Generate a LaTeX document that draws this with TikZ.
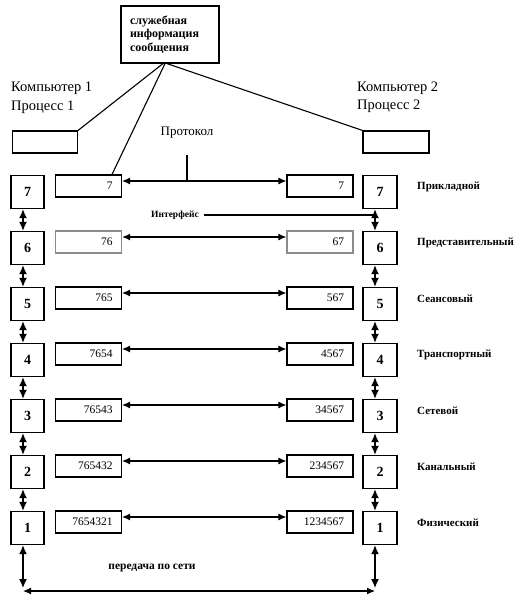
\documentclass[tikz,border=0pt]{standalone}
\usepackage{fontspec}
\setmainfont{Liberation Serif}
\usetikzlibrary{arrows.meta}
\begin{document}
\begin{tikzpicture}[x=1pt,y=-1pt,
  numbox/.style={draw,line width=1.3pt,minimum width=33pt,minimum height=33pt,inner sep=0pt,font=\bfseries\fontsize{14}{14}\selectfont},
  databox/.style={draw,line width=1.1pt,minimum width=66pt,minimum height=22pt,text width=48pt,align=right,inner xsep=9pt,inner ysep=0pt,font=\fontsize{11.5}{11.5}\selectfont},
  graybox/.style={databox,draw=black!45,line width=1.4pt},
  smallbox/.style={draw,line width=1.2pt,minimum width=65pt,minimum height=22pt,inner sep=0pt},
  plain/.style={inner sep=1pt,font=\fontsize{14.5}{14.5}\selectfont},
  layername/.style={anchor=west,inner sep=0pt,font=\bfseries\fontsize{11}{11}\selectfont},
  link/.style={line width=1.1pt},
  harrow/.style={line width=1.1pt,{Latex[length=8pt,width=7pt]}-{Latex[length=8pt,width=7pt]}},
  varrow/.style={line width=1.4pt,{Latex[length=9pt,width=8pt]}-{Latex[length=9pt,width=8pt]}}
]
\useasboundingbox (0,0) rectangle (514,595);

% top box
\node[draw,line width=1.2pt,minimum width=98pt,minimum height=57pt,text width=80pt,inner xsep=9pt,align=left,
  font=\bfseries\fontsize{12}{13.5}\selectfont] (T) at (170,34.5) {служебная\\информация\\сообщения};

% computer labels
\node[plain,anchor=west] (C1) at (10,88) {Компьютер 1};
\node[plain,anchor=west] (P1) at (10,107) {Процесс 1};
\node[plain,anchor=west] (C2) at (356,88) {Компьютер 2};
\node[plain,anchor=west] (P2) at (356,106) {Процесс 2};

% small boxes
\node[smallbox] (SL) at (45,142) {};
\node[smallbox,minimum width=66pt] (SR) at (396,142) {};

% protocol
\node[inner sep=1pt,font=\fontsize{13}{13}\selectfont] (PR) at (187,133) {Протокол};

% rows
\foreach \n/\dl/\dr/\st/\nm [count=\i from 0] in {
  7/7/7/databox/Прикладной,
  6/76/67/graybox/Представительный,
  5/765/567/databox/Сеансовый,
  4/7654/4567/databox/Транспортный,
  3/76543/34567/databox/Сетевой,
  2/765432/234567/databox/Канальный,
  1/7654321/1234567/databox/Физический}{
  \pgfmathsetmacro\yt{175+56*\i}
  \node[numbox] (L\n) at (27.5,\yt+17) {\n};
  \node[numbox,minimum width=34pt] (R\n) at (380,\yt+17) {\n};
  \node[\st] (DL\n) at (88.5,\yt+11) {\dl};
  \node[\st] (DR\n) at (320,\yt+11) {\dr};
  \node[layername] (N\n) at (417,\yt+12) {\nm};
  \draw[harrow] ([yshift=5pt]DL\n.east) -- ([yshift=5pt]DR\n.west);
}

% vertical arrows between layers
\foreach \n/\m in {7/6,6/5,5/4,4/3,3/2,2/1}{
  \draw[varrow] ([xshift=-4.5pt]L\n.south) -- ([xshift=-4.5pt]L\m.north);
  \draw[varrow] ([xshift=-5pt]R\n.south) -- ([xshift=-5pt]R\m.north);
}

% lines from the top box
\draw[link] ([xshift=-7pt]T.south) -- (SL.north east);
\draw[link] ([xshift=-5pt]T.south) -- ([xshift=23.5pt]DL7.north);
\draw[link] ([xshift=-3pt]T.south) -- (SR.north west);

% protocol line
\coordinate (pc) at (187,181);
\draw[link,shorten <=15pt] (PR.south) -- (pc);

% interface
\node[inner sep=0pt,font=\bfseries\fontsize{9.5}{9.5}\selectfont] (IF) at (175,215) {Интерфейс};
\coordinate (ifc) at (375,215);
\draw[link] ([xshift=5pt]IF.east) -- (ifc);

% network transfer
\node[inner sep=0pt,font=\bfseries\fontsize{11.5}{11.5}\selectfont] (NET) at (152,568) {передача по сети};
\coordinate (bl) at (23,591);
\coordinate (br) at (375,591);
\draw[varrow] ([xshift=-4.5pt]L1.south) -- ([yshift=3pt]bl);
\draw[varrow] ([xshift=-5pt]R1.south) -- ([yshift=3pt]br);
\draw[harrow] (bl) -- (br);
\end{tikzpicture}
\end{document}
